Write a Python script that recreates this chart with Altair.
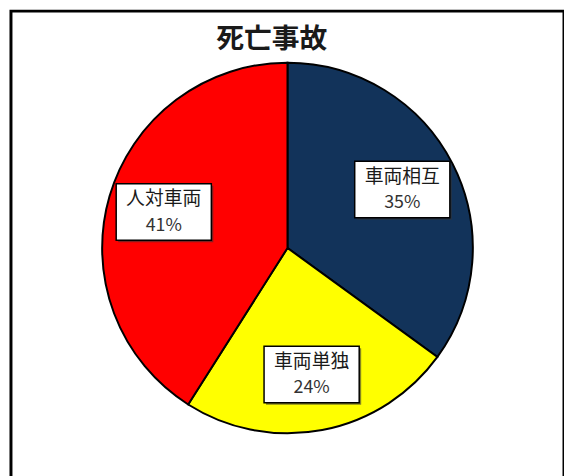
import altair as alt
import pandas as pd

categories = ["車両相互", "車両単独", "人対車両"]
values = [35, 24, 41]
order = [1, 2, 3]
colors = ["#12335a", "#ffff00", "#ff0000"]
title_text = "死亡事故"

df = pd.DataFrame({"cat": categories, "val": values, "ord": order})

W, H = 558, 478
R_OUT = 187
R_LAB = 130
JP = "Noto Sans CJK JP"

base = alt.Chart(df)

pie = base.mark_arc(outerRadius=R_OUT, stroke="black", strokeWidth=2).encode(
    theta=alt.Theta("val:Q", stack=True),
    order=alt.Order("ord:Q"),
    color=alt.Color("cat:N", scale=alt.Scale(domain=categories, range=colors), legend=None),
)

lab = base.transform_window(
    cum="sum(val)", sort=[alt.SortField("ord")], frame=[None, 0]
).transform_joinaggregate(
    total="sum(val)"
).transform_calculate(
    mid="(datum.cum - datum.val/2) / datum.total * 2 * PI",
    lx=f"{R_LAB} * sin(datum.mid)",
    ly=f"{R_LAB} * cos(datum.mid)",
    pct="datum.val + '%'",
)

xs = alt.X("lx:Q", scale=alt.Scale(domain=[-W / 2, W / 2], nice=False), axis=None)
ys = alt.Y("ly:Q", scale=alt.Scale(domain=[-H / 2, H / 2], nice=False), axis=None)

box_path = "M-1,-0.594L1,-0.594L1,0.594L-1,0.594Z"
shadow = lab.mark_point(
    shape=box_path, size=96 * 96, filled=True, color="#333333", opacity=0.6,
    xOffset=2, yOffset=2,
).encode(x=xs, y=ys)
box = lab.mark_point(
    shape=box_path, size=96 * 96, filled=False, fill="white", fillOpacity=1,
    stroke="black", strokeWidth=1.5, opacity=1,
).encode(x=xs, y=ys)
name = lab.mark_text(font=JP, fontSize=19, color="#1a1a1a", dy=-13, baseline="middle").encode(
    x=xs, y=ys, text="cat:N"
)
pct = lab.mark_text(font=JP, fontSize=18, color="#333333", dy=14, baseline="middle").encode(
    x=xs, y=ys, text="pct:N"
)

title = alt.Chart(pd.DataFrame({"t": [title_text]})).mark_text(
    font=JP, fontSize=28, fontWeight="bold", color="#1a1a1a", baseline="middle", align="center"
).encode(x=alt.value(W / 2 - 16), y=alt.value(29), text="t:N")

chart = alt.layer(pie, shadow, box, name, pct, title).properties(
    width=W, height=H,
    padding={"left": 3, "top": 1, "right": 0, "bottom": 0},
).configure(background="white").configure_view(stroke="black", strokeWidth=3)

chart.save("out.html", embed_options={"renderer": "svg", "actions": False})
